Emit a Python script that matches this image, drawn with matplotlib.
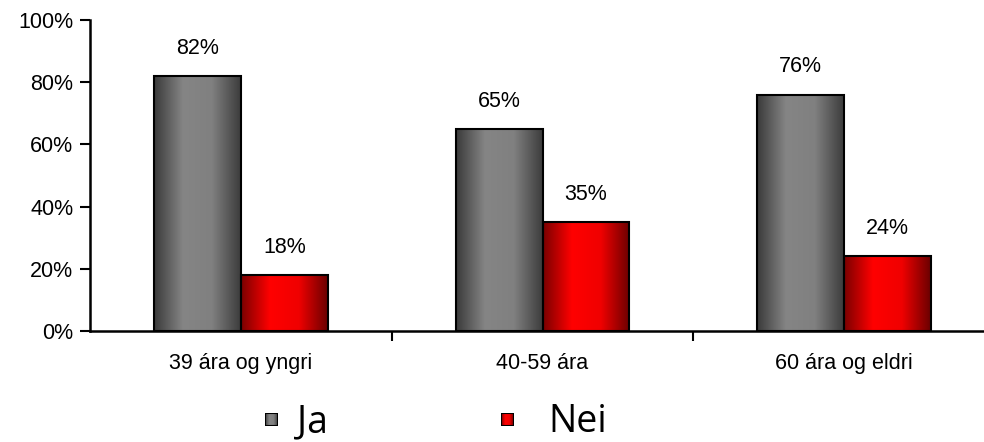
import numpy as np
import matplotlib.pyplot as plt
from matplotlib.colors import LinearSegmentedColormap
from matplotlib.patches import Rectangle

categories = ['39 ára og yngri', '40-59 ára', '60 ára og eldri']
ja = [82, 65, 76]
nei = [18, 35, 24]
series_names = ['Ja', 'Nei']
yticks = [0, 20, 40, 60, 80, 100]

gray_cmap = LinearSegmentedColormap.from_list('g', ['#3a3a3a', '#858585', '#808080', '#3c3c3c'])
red_cmap = LinearSegmentedColormap.from_list('r', ['#7a0000', '#ff0000', '#f00000', '#6a0000'])

fig = plt.figure(figsize=(9.84, 4.42), dpi=100)
ax = fig.add_axes([90 / 984, 111 / 442, 905 / 984, 311 / 442])

x = np.arange(len(categories))
w = 0.288
grad = np.linspace(0, 1, 256).reshape(1, -1)
fs = 15.5


def gradient_bars(xs, vals, cmap):
    bars = ax.bar(xs, vals, width=w, color='none', edgecolor='black', linewidth=1.5, zorder=3)
    for b in bars:
        im = ax.imshow(grad, cmap=cmap, aspect='auto', zorder=2,
                       extent=[b.get_x(), b.get_x() + b.get_width(), 0, b.get_height()])
        im.set_clip_path(b)
    for xi, v in zip(xs, vals):
        ax.annotate(f'{v}%', (xi, v), xytext=(0, 20), textcoords='offset points',
                    ha='center', va='center', fontsize=fs, family='Liberation Sans')
    return bars


gradient_bars(x - w / 2, ja, gray_cmap)
gradient_bars(x + w / 2, nei, red_cmap)

ax.set_xlim(-0.5, 2.5)
ax.set_ylim(0, 100)
ax.set_yticks(yticks)
ax.set_yticklabels([f'{t}%' for t in yticks], family='Liberation Sans', fontsize=fs)
ax.set_xticks(x)
ax.set_xticklabels(categories, family='Liberation Sans', fontsize=fs)
ax.tick_params(axis='x', length=0, pad=16)
ax.tick_params(axis='y', length=7, width=1.5, direction='out', pad=5)
ax.set_xticks([0.5, 1.5], minor=True)
ax.tick_params(axis='x', which='minor', length=7, width=1.5, direction='out')
for s in ['top', 'right']:
    ax.spines[s].set_visible(False)
for s in ['left', 'bottom']:
    ax.spines[s].set_linewidth(1.8)

# legend drawn by hand at the bottom
for name, cmap, mx, tx in zip(series_names, [gray_cmap, red_cmap], [265 / 984, 501 / 984], [297 / 984, 548 / 984]):
    lax = fig.add_axes([mx, 16 / 442, 13 / 984, 13 / 442])
    lax.imshow(grad, cmap=cmap, aspect='auto', extent=[0, 1, 0, 1])
    lax.add_patch(Rectangle((0, 0), 1, 1, fill=False, edgecolor='black', linewidth=1.5))
    lax.set_xticks([])
    lax.set_yticks([])
    for s in lax.spines.values():
        s.set_visible(False)
    fig.text(tx, 10 / 442, name, fontsize=27, family='Open Sans', va='baseline', ha='left')

fig.savefig('out.png', dpi=100)
